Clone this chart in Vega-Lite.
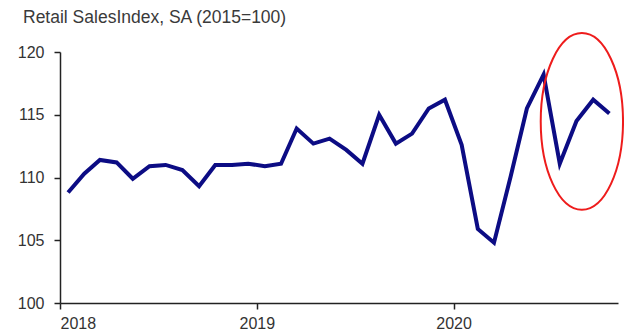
{
  "$schema": "https://vega.github.io/schema/vega-lite/v6.json",
  "autosize": {"type": "none"},
  "padding": {"left": 60, "top": 52, "right": 6, "bottom": 30},
  "width": 558,
  "height": 251,
  "background": "white",
  "config": {
    "view": {"stroke": null},
    "font": "Liberation Sans"
  },
  "title": {
    "text": "Retail SalesIndex, SA (2015=100)",
    "anchor": "start",
    "frame": "group",
    "baseline": "alphabetic",
    "offset": 0,
    "dx": -37,
    "dy": 11,
    "fontSize": 17.5,
    "fontWeight": "normal",
    "color": "#3a3a3a",
    "font": "Liberation Sans"
  },
  "layer": [
    {
      "data": {
        "values": [
          {"date": "2018-01-16", "value": 108.8},
          {"date": "2018-02-15", "value": 110.3},
          {"date": "2018-03-16", "value": 111.4},
          {"date": "2018-04-16", "value": 111.2},
          {"date": "2018-05-16", "value": 109.9},
          {"date": "2018-06-16", "value": 110.9},
          {"date": "2018-07-16", "value": 111.0},
          {"date": "2018-08-16", "value": 110.6},
          {"date": "2018-09-16", "value": 109.3},
          {"date": "2018-10-16", "value": 111.0},
          {"date": "2018-11-16", "value": 111.0},
          {"date": "2018-12-16", "value": 111.1},
          {"date": "2019-01-16", "value": 110.9},
          {"date": "2019-02-15", "value": 111.1},
          {"date": "2019-03-16", "value": 113.9},
          {"date": "2019-04-16", "value": 112.7},
          {"date": "2019-05-16", "value": 113.1},
          {"date": "2019-06-16", "value": 112.2},
          {"date": "2019-07-16", "value": 111.1},
          {"date": "2019-08-16", "value": 115.0},
          {"date": "2019-09-16", "value": 112.7},
          {"date": "2019-10-16", "value": 113.5},
          {"date": "2019-11-16", "value": 115.5},
          {"date": "2019-12-16", "value": 116.2},
          {"date": "2020-01-16", "value": 112.6},
          {"date": "2020-02-15", "value": 105.9},
          {"date": "2020-03-16", "value": 104.8},
          {"date": "2020-04-16", "value": 110.1},
          {"date": "2020-05-16", "value": 115.5},
          {"date": "2020-06-16", "value": 118.2},
          {"date": "2020-07-16", "value": 111.1},
          {"date": "2020-08-16", "value": 114.5},
          {"date": "2020-09-16", "value": 116.2},
          {"date": "2020-10-16", "value": 115.1}
        ]
      },
      "mark": {"type": "line", "color": "#0c0c84", "strokeWidth": 4, "clip": false},
      "encoding": {
        "x": {
          "field": "date",
          "type": "temporal",
          "scale": {
            "type": "utc",
            "domain": [
              {"year": 2018, "month": 1, "date": 1, "utc": true},
              {"year": 2020, "month": 11, "date": 1, "utc": true}
            ]
          },
          "axis": {
            "title": null,
            "values": [
              {"year": 2018, "month": 1, "date": 1, "utc": true},
              {"year": 2019, "month": 1, "date": 1, "utc": true},
              {"year": 2020, "month": 1, "date": 1, "utc": true}
            ],
            "format": "%Y",
            "grid": false,
            "domainColor": "#222222",
            "domainWidth": 1.5,
            "tickColor": "#222222",
            "tickWidth": 1.5,
            "tickSize": 6,
            "labelPadding": 6,
            "labelDx": 8,
            "labelFontSize": 16,
            "labelColor": "#333333",
            "labelFont": "Liberation Sans"
          }
        },
        "y": {
          "field": "value",
          "type": "quantitative",
          "scale": {"domain": [100, 120], "zero": false, "nice": false},
          "axis": {
            "title": null,
            "values": [100, 105, 110, 115, 120],
            "grid": false,
            "domainColor": "#222222",
            "domainWidth": 1.5,
            "tickColor": "#222222",
            "tickWidth": 1.5,
            "tickSize": 6,
            "labelPadding": 10,
            "labelFontSize": 16,
            "labelColor": "#333333",
            "labelFont": "Liberation Sans"
          }
        }
      }
    },
    {
      "data": {"values": [{"date": "2020-08-26", "value": 114.47}]},
      "mark": {
        "type": "point",
        "filled": false,
        "clip": false,
        "stroke": "#ee1c1c",
        "strokeWidth": 2,
        "size": 31188,
        "opacity": 1,
        "shape": "M 0 -1 C 0.2574 -1 0.466 -0.5523 0.466 0 C 0.466 0.5523 0.2574 1 0 1 C -0.2574 1 -0.466 0.5523 -0.466 0 C -0.466 -0.5523 -0.2574 -1 0 -1 Z"
      },
      "encoding": {
        "x": {"field": "date", "type": "temporal"},
        "y": {"field": "value", "type": "quantitative"}
      }
    }
  ]
}
